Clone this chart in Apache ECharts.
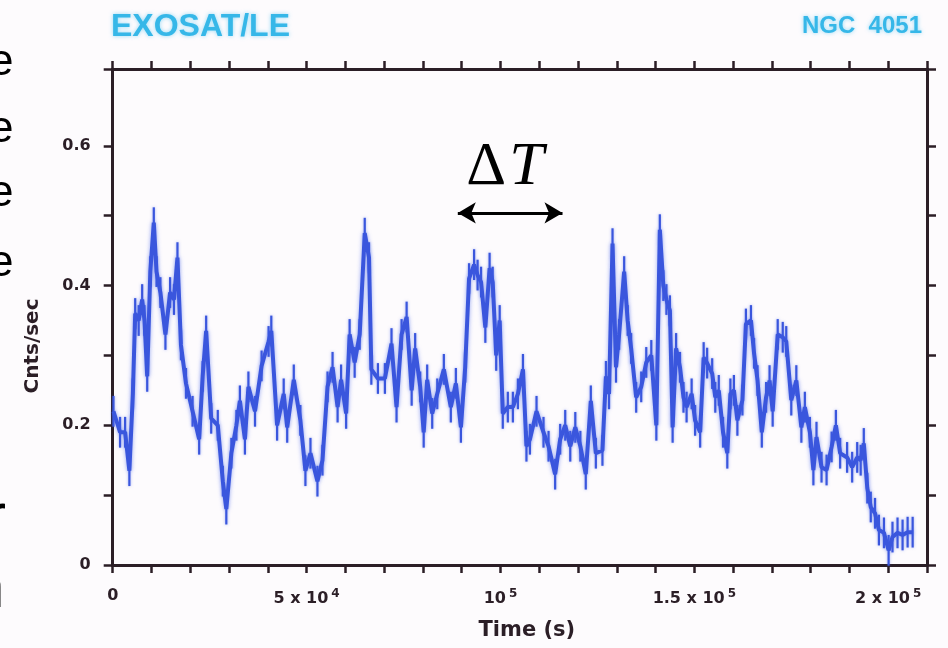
<!DOCTYPE html>
<html>
<head>
<meta charset="utf-8">
<script src="https://cdn.jsdelivr.net/npm/echarts@6/dist/echarts.min.js"></script>
<style>
  html, body { margin: 0; padding: 0; background: #fdfbfd; }
  #chart { width: 948px; height: 648px; }
</style>
</head>
<body>
<div id="chart"></div>
<script>
// NGC 4051 light curve, EXOSAT low-energy telescope
const timeSec = [
  200,1900,3200,4300,5200,5800,6700,7600,8200,8900,
  9700,10600,11300,12300,13600,14800,15800,16700,17600,18900,
  20600,22300,23200,24100,25400,27100,28400,29300,30600,31900,
  32800,34100,35000,36700,38400,40200,40900,42400,44100,45000,
  46700,48400,49700,51000,52800,54100,55400,56700,58000,58900,
  60200,61100,62400,63700,65000,66100,66700,68400,70200,71900,
  73200,74500,75800,77100,78000,79300,80200,81100,82400,83700,
  85400,87200,88500,89800,90900,91900,93200,94100,95000,96100,
  97200,98000,98900,99800,100600,101900,103200,104500,105800,106700,
  107600,109300,111100,112400,114100,115400,116700,118000,119300,120600,
  122000,123300,124600,126300,127200,128000,128900,129800,130600,131900,
  132800,133700,135000,136300,137600,138900,140200,141100,142000,142800,
  143700,144400,145300,146300,147200,148000,149300,150200,151500,152400,
  153300,154600,155400,156300,157400,158500,159300,160200,161100,162400,
  163300,164600,165400,166300,167400,168500,169400,170200,171500,172800,
  173700,175000,176300,177600,178500,179800,180700,181500,182800,184100,
  185400,186500,187600,189400,190700,192000,192900,193700,194600,195500,
  196600,197600,198900,200100,201100,202400,203700,205000,206300
];
const countRate = [
  0.22,0.19,0.19,0.135,0.245,0.36,0.35,0.38,0.35,0.27,
  0.42,0.49,0.42,0.39,0.33,0.39,0.38,0.44,0.315,0.26,
  0.22,0.18,0.27,0.335,0.21,0.2,0.12,0.08,0.16,0.2,
  0.235,0.18,0.255,0.22,0.285,0.32,0.335,0.2,0.245,0.197,
  0.265,0.207,0.135,0.16,0.12,0.15,0.255,0.283,0.226,0.265,
  0.217,0.33,0.29,0.33,0.475,0.44,0.28,0.267,0.267,0.317,
  0.226,0.33,0.355,0.25,0.31,0.255,0.19,0.265,0.217,0.245,
  0.28,0.226,0.26,0.197,0.283,0.41,0.43,0.415,0.405,0.34,
  0.425,0.405,0.30,0.35,0.217,0.226,0.226,0.245,0.28,0.17,
  0.18,0.22,0.19,0.17,0.13,0.18,0.2,0.17,0.197,0.17,
  0.13,0.235,0.16,0.164,0.27,0.245,0.46,0.283,0.33,0.42,
  0.35,0.31,0.24,0.255,0.29,0.30,0.2,0.48,0.40,0.38,
  0.364,0.197,0.31,0.283,0.24,0.226,0.245,0.207,0.19,0.297,
  0.289,0.274,0.24,0.25,0.19,0.16,0.245,0.25,0.207,0.236,
  0.345,0.35,0.303,0.264,0.19,0.24,0.264,0.22,0.33,0.326,
  0.32,0.236,0.264,0.197,0.226,0.19,0.136,0.183,0.14,0.136,
  0.169,0.2,0.16,0.154,0.14,0.154,0.15,0.174,0.11,0.083,
  0.074,0.05,0.046,0.021,0.04,0.046,0.043,0.047,0.047
];
// 1-sigma half-height of each error bar (cnts/sec)
const rateError = 0.022;

const xTickValues = [0, 50000, 100000, 150000, 200000];
const xTickText = ['0', '5 x 10{sup|4}', '10{sup|5}', '1.5 x 10{sup|5}', '2 x 10{sup|5}'];
const yTickValues = [0, 0.2, 0.4, 0.6];
const yTickText = ['0', '0.2', '0.4', '0.6'];
const yTickMarks = [0, 0.1, 0.2, 0.3, 0.4, 0.5, 0.6, 0.71];

// Characteristic timescale marker
const deltaTSpan = [89000, 116000];
const deltaTLevel = 0.504;

const INK = '#2b1e26';
const TRACE = '#3a56dd';
const FONT = '"DejaVu Sans", Verdana, sans-serif';
const TITLE_FONT = '"Liberation Sans", Arial, sans-serif';

function pick(values, texts, v) {
  const i = values.findIndex(t => Math.abs(t - v) < 1e-6);
  return i >= 0 ? texts[i] : '';
}

const lineData = timeSec.map((t, i) => [t, countRate[i]]);
const barData = timeSec.map((t, i) => [t, countRate[i] - rateError, countRate[i] + rateError]);

const axisLine = { show: true, onZero: false, lineStyle: { color: INK, width: 3 } };
const xTick = { show: true, inside: false, length: 8, lineStyle: { color: INK, width: 2.5 } };
const yTick = { show: true, inside: false, length: 9, customValues: yTickMarks, lineStyle: { color: INK, width: 2.5 } };

const chart = echarts.init(document.getElementById('chart'), null, { renderer: 'canvas' });

chart.setOption({
  backgroundColor: '#fdfbfd',
  animation: false,
  title: [
    {
      text: 'EXOSAT/LE', left: 111, top: 11, padding: 0,
      textStyle: {
        color: '#36b7e8', fontSize: 32, fontWeight: 'bold', fontFamily: TITLE_FONT,
        textShadowColor: 'rgba(60,190,240,0.55)', textShadowBlur: 4
      }
    },
    {
      text: 'NGC  4051', right: 26, top: 14, padding: 0,
      textStyle: {
        color: '#36b7e8', fontSize: 24, fontWeight: 'bold', fontFamily: TITLE_FONT,
        textShadowColor: 'rgba(60,190,240,0.55)', textShadowBlur: 4
      }
    }
  ],
  grid: { left: 112.7, right: 21, top: 69, bottom: 83, containLabel: false, outerBoundsMode: 'none' },
  xAxis: [
    {
      type: 'value', position: 'bottom', min: 0, max: 210000, interval: 10000,
      axisLine, axisTick: xTick, splitLine: { show: false },
      axisLabel: {
        margin: 23, color: INK, fontSize: 16, fontWeight: 'bold', fontFamily: FONT,
        formatter: v => pick(xTickValues, xTickText, v),
        rich: {
          sup: { fontSize: 12, fontWeight: 'bold', fontFamily: FONT, color: INK, padding: [0, 0, 10, 3] }
        }
      },
      name: 'Time (s)', nameLocation: 'middle', nameGap: 55,
      nameTextStyle: { color: INK, fontSize: 21, fontWeight: 'bold', fontFamily: FONT, padding: [0, 0, 0, 14] }
    },
    {
      type: 'value', position: 'top', min: 0, max: 210000, interval: 10000,
      axisLine, axisTick: xTick, axisLabel: { show: false }, splitLine: { show: false }
    }
  ],
  yAxis: [
    {
      type: 'value', position: 'left', min: 0, max: 0.71,
      axisLine, axisTick: yTick, splitLine: { show: false },
      axisLabel: {
        margin: 22, color: INK, fontSize: 16, fontWeight: 'bold', fontFamily: FONT,
        customValues: yTickValues,
        formatter: v => pick(yTickValues, yTickText, v)
      },
      name: 'Cnts/sec', nameLocation: 'middle', nameGap: 70, nameRotate: 90,
      nameTextStyle: { color: INK, fontSize: 20, fontWeight: 'bold', fontFamily: FONT, padding: [0, 58, 0, 0] }
    },
    {
      type: 'value', position: 'right', min: 0, max: 0.71,
      axisLine, axisTick: yTick,
      axisLabel: { show: false }, splitLine: { show: false }
    }
  ],
  series: [
    {
      type: 'custom',
      name: 'errors',
      xAxisIndex: 0, yAxisIndex: 0,
      renderItem: (params, api) => {
        const lo = api.coord([api.value(0), api.value(1)]);
        const hi = api.coord([api.value(0), api.value(2)]);
        return {
          type: 'line',
          shape: { x1: lo[0], y1: lo[1], x2: hi[0], y2: hi[1] },
          style: { stroke: TRACE, lineWidth: 2.2, shadowColor: 'rgba(70,100,235,0.5)', shadowBlur: 3 }
        };
      },
      encode: { x: 0, y: [1, 2] },
      data: barData,
      z: 3
    },
    {
      type: 'line',
      name: 'rate',
      xAxisIndex: 0, yAxisIndex: 0,
      data: lineData,
      showSymbol: false,
      lineStyle: { color: TRACE, width: 4, shadowColor: 'rgba(70,100,235,0.55)', shadowBlur: 4 },
      z: 4,
      markLine: {
        silent: true,
        symbol: ['arrow', 'arrow'],
        symbolSize: [16, 18],
        label: { show: false },
        lineStyle: { color: '#000', width: 3, type: 'solid', shadowBlur: 0 },
        data: [[
          { coord: [deltaTSpan[0], deltaTLevel] },
          { coord: [deltaTSpan[1], deltaTLevel] }
        ]]
      }
    }
  ]
});

// ΔT label above the arrow, placed in data coordinates
const mid = chart.convertToPixel({ xAxisIndex: 0, yAxisIndex: 0 }, [(deltaTSpan[0] + deltaTSpan[1]) / 2, deltaTLevel]);
const LETTER = '44px "Liberation Sans", Arial, sans-serif';
chart.setOption({
  graphic: [
    {
      type: 'text', left: mid[0] - 44, top: mid[1] - 76,
      style: { text: 'Δ', font: '62px "Liberation Serif", "Times New Roman", serif', fill: '#000' }
    },
    {
      type: 'text', left: mid[0] - 1, top: mid[1] - 76,
      style: { text: 'T', font: 'italic 62px "Liberation Serif", "Times New Roman", serif', fill: '#000' }
    },
    // Cut-off letters from neighbouring text at the left margin
    { type: 'text', left: -11, top: 41, style: { text: 'e', font: LETTER, fill: '#000' } },
    { type: 'text', left: -11, top: 108, style: { text: 'e', font: LETTER, fill: '#000' } },
    { type: 'text', left: -11, top: 172, style: { text: 'e', font: LETTER, fill: '#000' } },
    { type: 'text', left: -11, top: 242, style: { text: 'e', font: LETTER, fill: '#000' } },
    { type: 'text', left: -14, top: 488, style: { text: 'r', font: '60px "Liberation Sans", Arial, sans-serif', fill: '#000' } },
    { type: 'text', left: -29, top: 560, style: { text: 'n', font: '60px "Liberation Sans", Arial, sans-serif', fill: '#000' } }
  ]
});
</script>
</body>
</html>
